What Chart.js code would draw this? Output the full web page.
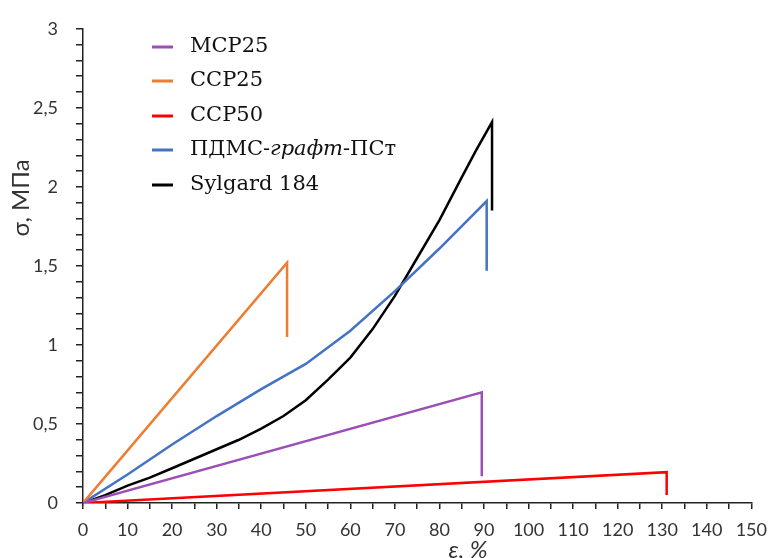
<!DOCTYPE html>
<html>
<head>
<meta charset="utf-8">
<script src="https://cdn.jsdelivr.net/npm/chart.js@4"></script>
<style>
  html, body { margin: 0; padding: 0; background: #fff; }
  #wrap { width: 777px; height: 558px; }
</style>
</head>
<body>
<div id="wrap"><canvas id="stressChart" width="777" height="558"></canvas></div>
<script>
// strain, %  /  stress, MPa
const mcpX = [0, 89.5, 89.5];
const mcpY = [0, 0.70, 0.17];

const ccp25X = [0, 45.8, 45.8];
const ccp25Y = [0, 1.52, 1.05];

const ccp50X = [0, 131, 131];
const ccp50Y = [0, 0.195, 0.05];

const pdmsX = [0, 10, 20, 30, 40, 50, 60, 70, 80, 90.6, 90.6];
const pdmsY = [0, 0.18, 0.37, 0.55, 0.72, 0.88, 1.09, 1.34, 1.61, 1.91, 1.47];

const sylX = [0, 5, 10, 15, 20, 25, 30, 35, 40, 45, 50, 55, 60, 65, 70, 75, 80, 85, 88, 91.8, 91.8];
const sylY = [0, 0.05, 0.11, 0.16, 0.22, 0.28, 0.34, 0.40, 0.47, 0.55, 0.65, 0.78, 0.92, 1.10, 1.31, 1.55, 1.79, 2.06, 2.22, 2.41, 1.85];

const seriesNames = ["МСР25", "ССР25", "ССР50", "ПДМС-графт-ПСт", "Sylgard 184"];
const seriesColors = ["#9b4fb5", "#ed7d31", "#ff0000", "#4472c4", "#000000"];

const xTickStep = 5, xLabelStep = 10;
const yTickStep = 0.1, yLabelStep = 0.5;

function pts(xs, ys) {
  return xs.map((x, i) => ({ x: x, y: ys[i] }));
}

const allData = [pts(mcpX, mcpY), pts(ccp25X, ccp25Y), pts(ccp50X, ccp50Y), pts(pdmsX, pdmsY), pts(sylX, sylY)];

// legend + axis titles drawn by hand (the reference mixes italic in one entry)
const customText = {
  id: "customText",
  afterDraw(chart) {
    const ctx = chart.ctx;
    ctx.save();
    const rowY = [47, 81, 116, 150, 185];
    chart.data.datasets.forEach((ds, i) => {
      const y = rowY[i];
      ctx.strokeStyle = ds.borderColor;
      ctx.lineWidth = 3;
      ctx.beginPath();
      ctx.moveTo(152, y);
      ctx.lineTo(173, y);
      ctx.stroke();
      ctx.fillStyle = "#111";
      ctx.textBaseline = "middle";
      ctx.textAlign = "left";
      if (i === 3) {
        let x = 190;
        const parts = [["ПДМС-", "normal"], ["графт", "italic"], ["-ПСт", "normal"]];
        parts.forEach(p => {
          ctx.font = p[1] + " 21px 'DejaVu Serif'";
          ctx.fillText(p[0], x, y);
          x += ctx.measureText(p[0]).width;
        });
      } else {
        ctx.font = "21px 'DejaVu Serif'";
        ctx.fillText(ds.label, 190, y);
      }
    });

    ctx.fillStyle = "#333";
    ctx.textAlign = "center";
    ctx.textBaseline = "alphabetic";
    ctx.font = "italic 24px Lato";
    ctx.fillText("ε, %", 468, 558);

    ctx.textBaseline = "middle";
    ctx.font = "24px Lato";
    ctx.translate(21, 198);
    ctx.rotate(-Math.PI / 2);
    ctx.fillText("σ, МПа", 0, 0);
    ctx.restore();
  }
};

new Chart(document.getElementById("stressChart").getContext("2d"), {
  type: "line",
  data: {
    datasets: allData.map((d, i) => ({
      label: seriesNames[i],
      data: d,
      borderColor: seriesColors[i],
      backgroundColor: seriesColors[i],
      borderWidth: 2.5,
      pointRadius: 0,
      tension: 0,
      fill: false
    }))
  },
  options: {
    responsive: false,
    animation: false,
    layout: { padding: { top: 21, right: 22, left: 0, bottom: 0 } },
    plugins: {
      legend: { display: false },
      tooltip: { enabled: false }
    },
    scales: {
      x: {
        type: "linear",
        min: 0,
        max: 150,
        afterFit: s => { s.height = 55; },
        border: { color: "#222", width: 1.5 },
        grid: { drawOnChartArea: false, drawTicks: true, tickLength: 6, color: "#222", lineWidth: 1.5 },
        ticks: {
          stepSize: xTickStep,
          autoSkip: false,
          maxRotation: 0,
          padding: 10,
          color: "#333",
          font: { family: "Lato", size: 18 },
          callback: v => (Math.round(v) % xLabelStep === 0 ? String(v) : "")
        }
      },
      y: {
        min: 0,
        max: 3,
        afterFit: s => { s.width = 83; },
        border: { color: "#222", width: 1.5 },
        grid: { drawOnChartArea: false, drawTicks: true, tickLength: 7, color: "#222", lineWidth: 1.5 },
        ticks: {
          stepSize: yTickStep,
          autoSkip: false,
          padding: 18,
          color: "#333",
          font: { family: "Lato", size: 18 },
          callback: v => {
            const k = v / yLabelStep;
            if (Math.abs(k - Math.round(k)) > 1e-6) return "";
            return String(Math.round(v * 10) / 10).replace(".", ",");
          }
        }
      }
    }
  },
  plugins: [customText]
});
</script>
</body>
</html>
